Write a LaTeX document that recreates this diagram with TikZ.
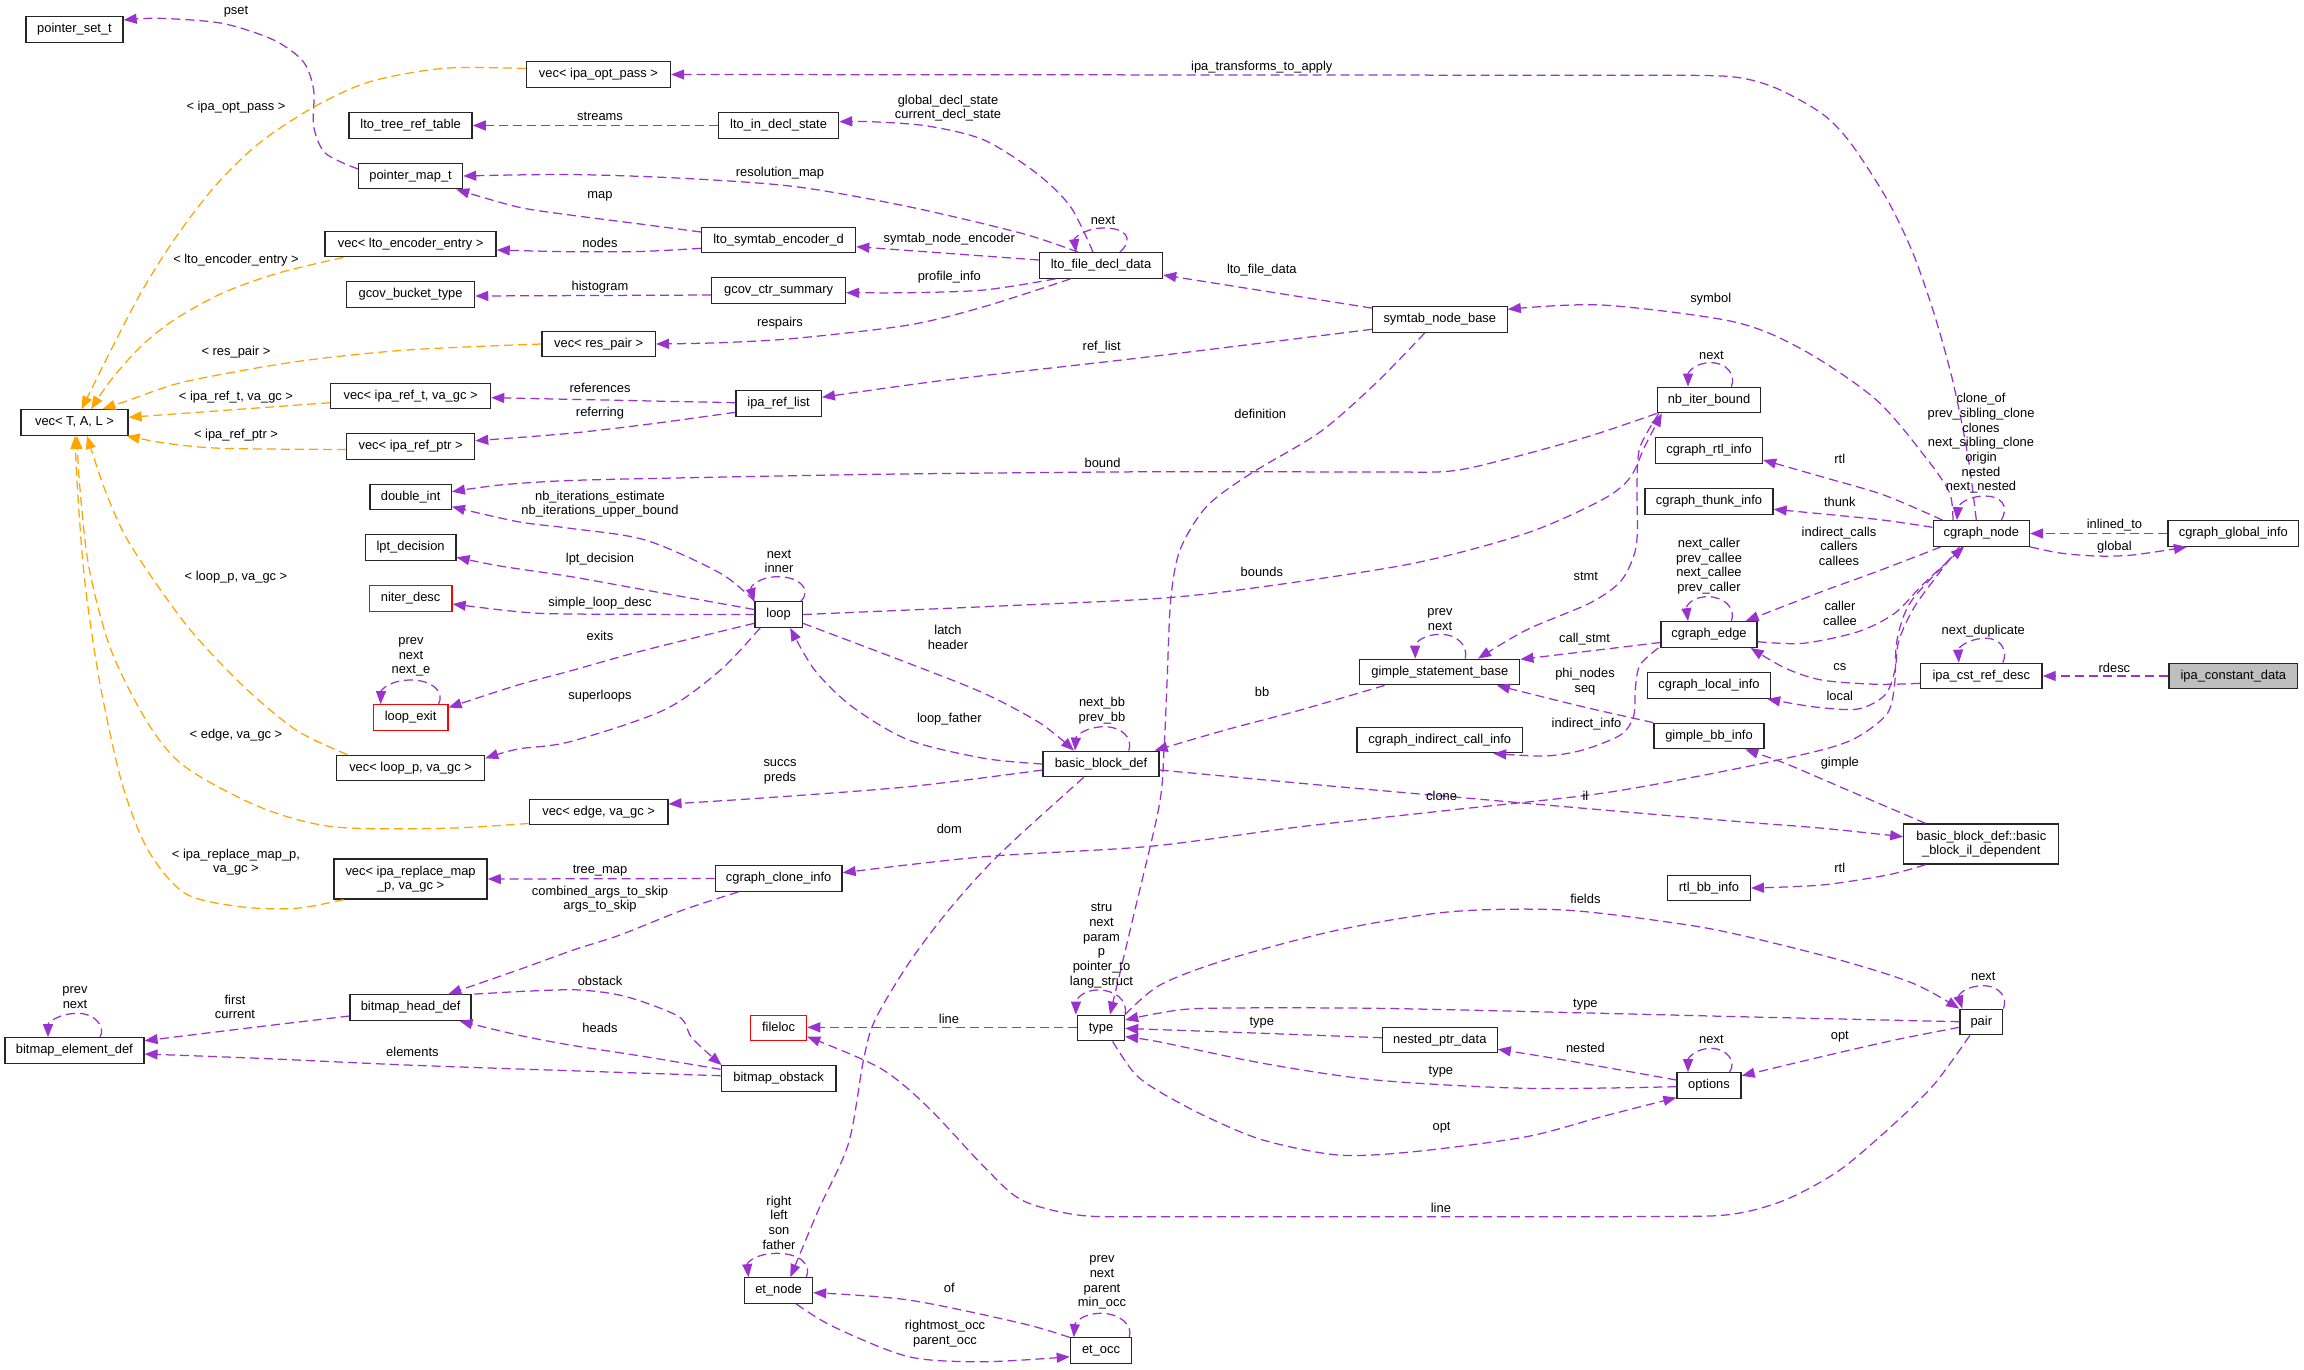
\documentclass[tikz,border=0pt]{standalone}
\usepackage{fontspec}
\usetikzlibrary{arrows.meta,calc}
\newfontfamily\dxfont{Liberation Sans}
\newcommand\dxf{\dxfont\fontsize{12.9}{14.7}\selectfont}
\definecolor{dpurple}{HTML}{9A32CD}
\definecolor{dorange}{HTML}{FFA500}
\tikzset{
 cls/.style={draw=black!85, line width=1.3pt, fill=white, font=\dxf, inner xsep=2pt, inner ysep=0pt, minimum height=25.5pt, text height=9.4pt, text depth=2.8pt},
 clstwo/.style={draw=black!85, line width=1.3pt, fill=white, font=\dxf, inner xsep=2pt, inner ysep=3pt, minimum height=40pt, align=center},
 redcls/.style={cls, draw=red},
 lbl/.style={font=\dxf, inner sep=0pt, align=center},
 pe/.style={draw=dpurple, line width=1.25pt, dash pattern=on 9pt off 5pt, -{Triangle[length=13pt,width=10pt]}},
 oe/.style={pe, draw=dorange},
}
\begin{document}
\begin{tikzpicture}[x=1pt,y=-1pt]
\fill[white] (0,0) rectangle (2304,1369);
\useasboundingbox (0,0) rectangle (2304,1369);

% ---------------- nodes ----------------
\node[cls, minimum width=97pt] (pset) at (74.5,29.5) {pointer\_set\_t};
\node[cls, minimum width=144pt] (vopt) at (598.5,74.5) {vec< ipa\_opt\_pass >};
\node[cls, minimum width=123pt] (ltrt) at (410.6,125.5) {lto\_tree\_ref\_table};
\node[cls, minimum width=104pt] (pmap) at (410.6,176) {pointer\_map\_t};
\node[cls, minimum width=171pt] (venc) at (410.6,244) {vec< lto\_encoder\_entry >};
\node[cls, minimum width=128pt] (gbt) at (410.6,294.5) {gcov\_bucket\_type};
\node[cls, minimum width=113.5pt] (vres) at (598.6,344) {vec< res\_pair >};
\node[cls, minimum width=160pt] (vreft) at (410.6,396) {vec< ipa\_ref\_t, va\_gc >};
\node[cls, minimum width=128pt] (vrefp) at (410.6,446.5) {vec< ipa\_ref\_ptr >};
\node[cls, minimum width=107pt] (vtal) at (74.5,422.5) {vec< T, A, L >};
\node[cls, minimum width=120pt] (lids) at (778.6,125.5) {lto\_in\_decl\_state};
\node[cls, minimum width=154pt] (lsed) at (778.6,240) {lto\_symtab\_encoder\_d};
\node[cls, minimum width=133.6pt] (gcs) at (778.6,290.5) {gcov\_ctr\_summary};
\node[cls, minimum width=85.4pt] (irl) at (778.6,403.5) {ipa\_ref\_list};
\node[cls, minimum width=123pt] (lfdd) at (1101,265.5) {lto\_file\_decl\_data};
\node[cls, minimum width=134.7pt] (snb) at (1439.8,319.5) {symtab\_node\_base};
\node[cls, minimum width=103pt] (nib) at (1709,400) {nb\_iter\_bound};
\node[cls, minimum width=107pt] (cri) at (1709,450.5) {cgraph\_rtl\_info};
\node[cls, minimum width=128pt] (cti) at (1709,501.5) {cgraph\_thunk\_info};
\node[cls, minimum width=96.3pt] (cgn) at (1981.3,533.5) {cgraph\_node};
\node[cls, minimum width=130.7pt] (cgi) at (2233.3,533.5) {cgraph\_global\_info};
\node[cls, minimum width=96pt] (cge) at (1709,634.5) {cgraph\_edge};
\node[cls, minimum width=123pt] (cli) at (1709,685.5) {cgraph\_local\_info};
\node[cls, minimum width=121.5pt] (icrd) at (1981.3,676) {ipa\_cst\_ref\_desc};
\node[cls, minimum width=128.8pt, fill=black!25] (icd) at (2233.3,676) {ipa\_constant\_data};
\node[cls, minimum width=110pt] (gbi) at (1709,736) {gimple\_bb\_info};
\node[clstwo, minimum width=155pt] (bbil) at (1981.3,844) {basic\_block\_def::basic\\\_block\_il\_dependent};
\node[cls, minimum width=82.7pt] (rbi) at (1709,888) {rtl\_bb\_info};
\node[cls, minimum width=160pt] (gsb) at (1439.8,672) {gimple\_statement\_base};
\node[cls, minimum width=165.5pt] (cici) at (1439.8,740) {cgraph\_indirect\_call\_info};
\node[cls, minimum width=47.4pt] (lp) at (778.6,614.5) {loop};
\node[cls, minimum width=116pt] (bbd) at (1101,764) {basic\_block\_def};
\node[cls, minimum width=126.8pt] (cci) at (778.6,878.5) {cgraph\_clone\_info};
\node[cls, minimum width=138.5pt] (vedge) at (598.6,812) {vec< edge, va\_gc >};
\node[cls, minimum width=81.4pt] (dint) at (410.6,497) {double\_int};
\node[cls, minimum width=90.6pt] (lptd) at (410.6,547.5) {lpt\_decision};
\node[redcls, minimum width=82.9pt] (nd) at (410.6,598.5) {niter\_desc};
\node[redcls, minimum width=74.7pt] (lex) at (410.6,717.5) {loop\_exit};
\node[cls, minimum width=148pt] (vloop) at (410.6,768) {vec< loop\_p, va\_gc >};
\node[clstwo, minimum width=153pt] (vrmap) at (410.6,879) {vec< ipa\_replace\_map\\\_p, va\_gc >};
\node[cls, minimum width=139pt] (bed) at (74.4,1050.5) {bitmap\_element\_def};
\node[cls, minimum width=121pt] (bhd) at (410.6,1007.5) {bitmap\_head\_def};
\node[redcls, minimum width=56pt] (floc) at (778.6,1028) {fileloc};
\node[cls, minimum width=114.8pt] (bobs) at (778.6,1078.5) {bitmap\_obstack};
\node[cls, minimum width=47pt] (typ) at (1101,1028) {type};
\node[cls, minimum width=68pt] (etn) at (778.6,1290.5) {et\_node};
\node[cls, minimum width=61.3pt] (eto) at (1101,1350.5) {et\_occ};
\node[cls, minimum width=114.7pt] (npd) at (1439.8,1040) {nested\_ptr\_data};
\node[cls, minimum width=64pt] (opts) at (1709,1085.5) {options};
\node[cls, minimum width=42.8pt] (pr) at (1981.3,1022) {pair};

% ---------------- connectors ----------------
\draw[pe] plot[smooth] coordinates {($(pmap.west)+(0,-7)$) (325.5,153.3) (313.7,126.7) (313.7,90) (303.3,61.7) (273.7,40) (222,23.3) (159,18.3) ($(pset.east)+(0,-9.5)$)};
\draw[oe] plot[smooth] coordinates {($(vopt.west)+(0,-6)$) (443.9,68.3) (370,81.7) (314.4,106.7) (259,143.3) (214.5,186.7) (173.9,240) (140.6,293.3) (111,350) ($(vtal.north)+(7,0)$)};
\draw[pe] (lids.west) -- (ltrt.east);
\draw[pe] plot[smooth] coordinates {($(lfdd.north)+(-8,0)$) (1070.5,206.7) (1036.6,173.3) (984,140) (927.5,126) (871,121.7) ($(lids.east)+(0,-3.8)$)};
\draw[pe] plot[smooth] coordinates {($(lfdd.north)+(-23,0)$) (1021.6,233.3) (908.7,206.7) (795.8,186.7) (682.9,178.3) (570,174.5) (pmap.east)};
\draw[pe] plot[smooth] coordinates {($(lsed.west)+(0,-8)$) (640,224) (570,215) (517.9,207) ($(pmap.south east)+(-7,0)$)};
\draw[pe] plot[smooth] coordinates {($(lsed.west)+(0,8.3)$) (640,251.5) (570,251.7) ($(venc.east)+(0,6)$)};
\draw[pe] ($(lfdd.north)+(19,0)$) .. controls (1135,238) and (1125,228) .. (1104,228) .. controls (1085,228) and (1074,238) .. ($(lfdd.north)+(-25,0)$);
\draw[pe] ($(lfdd.west)+(0,-5.5)$) -- ($(lsed.east)+(0,6.7)$);
\draw[pe] plot[smooth] coordinates {($(lfdd.south)+(-45.6,0)$) (984,290) (908.7,292.7) ($(gcs.east)+(0,2.2)$)};
\draw[pe] plot[smooth] coordinates {($(lfdd.south)+(-30.5,0)$) (984,306.7) (908.7,325) (795.8,338.3) (720.5,342.7) (vres.east)};
\draw[pe] ($(gcs.west)+(0,4.5)$) -- ($(gbt.east)+(0,1.5)$);
\draw[oe] plot[smooth] coordinates {($(venc.south west)+(19,0)$) (277.4,273.3) (222,293.3) (173.9,320) (140.6,346.7) (111,380) ($(vtal.north)+(16.5,0)$)};
\draw[oe] plot[smooth] coordinates {(vres.west) (406.9,350) (295.9,361.7) (185,381.7) (129.5,400) ($(vtal.north)+(28,0)$)};
\draw[oe] ($(vreft.west)+(0,6.7)$) -- ($(vtal.east)+(0,-5.2)$);
\draw[oe] plot[smooth] coordinates {($(vrefp.west)+(0,3)$) (222,448.3) (166.5,443.3) ($(vtal.south east)+(-2,0)$)};
\draw[pe] ($(irl.west)+(0,-0.8)$) -- ($(vreft.east)+(0,1.7)$);
\draw[pe] plot[smooth] coordinates {($(irl.west)+(0,8.8)$) (650,424) (570,433.3) ($(vrefp.east)+(0,-5.8)$)};
\draw[pe] plot[smooth] coordinates {($(snb.west)+(0,9.8)$) (1150,356.7) (946.3,380) ($(irl.east)+(0,-6.2)$)};
\draw[pe] ($(snb.north west)+(0,2)$) -- ($(lfdd.east)+(0,9.5)$);
\draw[pe] plot[smooth] coordinates {($(cgn.north)+(-28.4,0)$) (1949.7,493.3) (1927.7,460) (1876.4,400) (1803.2,350) (1733.3,321.7) (1601.6,305) ($(snb.east)+(0,-10.2)$)};
\draw[pe] plot[smooth] coordinates {($(cgn.north)+(-5,0)$) (1968,456.7) (1953.3,383.3) (1935,316.7) (1913,253.3) (1887.4,200) (1850.8,143.3) (1821.5,113.3) (1774,87.3) (1730,76.5) (1650,75.3)} -- (vopt.east);
\draw[pe] ($(cgn.north)+(20,0)$) .. controls (2010,505) and (2000,496) .. (1985,496) .. controls (1968,496) and (1958,505) .. ($(cgn.north)+(-24.4,0)$);
\draw[pe] plot[smooth] coordinates {($(cgn.north west)+(10,0)$) (1883.8,495) (1821.5,476.7) ($(cri.east)+(0,9.5)$)};
\draw[pe] plot[smooth] coordinates {($(cgn.west)+(0,-6.2)$) (1876.4,519.3) ($(cti.east)+(0,7.8)$)};
\draw[pe] plot[smooth] coordinates {($(cgn.south west)+(8.4,0)$) (1876.4,571.7) (1821.5,591.7) ($(cge.north east)+(-12,0)$)};
\draw[pe] plot[smooth] coordinates {($(cge.east)+(0,7.2)$) (1803.2,643.3) (1858,631.7) (1894.7,613.3) (1924,583.3) ($(cgn.south)+(-17.4,0)$)};
\draw[pe] (cgi.west) -- (cgn.east);
\draw[pe] plot[smooth] coordinates {(cgn.south east) (2060,553) (2096,556) (2132.7,555) ($(cgi.south west)+(19.6,0)$)};
\draw[pe] (icd.west) -- (icrd.east);
\draw[pe] ($(icrd.north)+(21.5,0)$) .. controls (2008,652) and (2002,638.3) .. (1986,638.3) .. controls (1968,638.3) and (1958,648) .. ($(icrd.north)+(-22.5,0)$);
\draw[pe] plot[smooth] coordinates {($(icrd.west)+(0,7.3)$) (1876.4,684.3) (1821.5,680) (1785,668) ($(cge.south east)+(-7,0)$)};
\draw[pe] plot[smooth] coordinates {($(cgn.south)+(-22,0)$) (1916.7,603.3) (1899,640) (1895,670) (1885,695) (1858,709) (1815,707) ($(cli.south east)+(-4,0)$)};
\draw[pe] plot[smooth] coordinates {($(cgn.south)+(-19,0)$) (1912,600) (1897,640) (1894.7,683.3) (1887.4,713.3) (1858,736.7) (1821.5,750) (1730,770) (1601.6,793.3) (1451,810) (1300.5,826.7) (1150,846.3) (984,856.7) ($(cci.east)+(0,-5.8)$)};
\draw[pe] plot[smooth] coordinates {($(bbd.east)+(0,6)$) (1338,786.7) (1526.3,803.3) (1740,821.7) (1820,828) ($(bbil.west)+(0,-7.3)$)};
\draw[pe] plot[smooth] coordinates {($(bbil.north west)+(22.4,0)$) (1839.8,786.7) (1785,763.3) ($(gbi.south east)+(-19.4,0)$)};
\draw[pe] plot[smooth] coordinates {($(bbil.south west)+(22.4,0)$) (1887.4,875) (1821.5,885) (rbi.east)};
\draw[pe] ($(nib.north)+(22.4,0)$) .. controls (1736,375) and (1727,362.7) .. (1711,362.7) .. controls (1695,362.7) and (1688,372) .. ($(nib.north)+(-21,0)$);
\draw[pe] plot[smooth] coordinates {(nib.south west) (1590,436) (1509.4,458.3) (1451,471) (1380,472) (1160,471.7) (900,474) (700,477.5) (570,480.5) (500,485) ($(dint.east)+(0,-5.3)$)};
\draw[pe] plot[smooth] coordinates {(lp.east) (1000,606) (1160,598.3) (1262.9,586.7) (1413.4,563.3) (1526.3,533.3) (1601.6,500) (1629.8,478) (1645,446) ($(nib.south west)+(5,0)$)};
\draw[pe] plot[smooth] coordinates {($(nib.south west)+(2,0)$) (1640,447) (1637,483.3) (1637.3,533.3) (1633.5,556.7) (1620,582) (1590,603) (1526.3,630) ($(gsb.north east)+(-42.4,0)$)};
\draw[pe] ($(cge.west)+(0,8)$) -- ($(gsb.east)+(0,-12.7)$);
\draw[pe] plot[smooth] coordinates {(gbi.north west) (1582.7,706.7) ($(gsb.south east)+(-23.6,0)$)};
\draw[pe] plot[smooth] coordinates {($(cge.south west)+(-2,0)$) (1640,665) (1635.4,688) (1633.5,716.7) (1620.4,735) (1582.7,750) (1545,756) ($(cici.south east)+(-30,0)$)};
\draw[pe] ($(cge.north)+(22.4,0)$) .. controls (1736,608) and (1724,596.7) .. (1708,596.7) .. controls (1693,596.7) and (1686,605) .. ($(cge.north)+(-21,0)$);
\draw[pe] ($(gsb.north)+(25.5,0)$) .. controls (1468,645) and (1457,634.3) .. (1440,634.3) .. controls (1425,634.3) and (1415,642) .. ($(gsb.north)+(-24.5,0)$);
\draw[pe] plot[smooth] coordinates {($(gsb.south west)+(25.4,0)$) (1300.5,710) (1225.3,730) ($(bbd.north east)+(-5,0)$)};
\draw[pe] plot[smooth] coordinates {($(snb.south)+(-15,0)$) (1376,383) (1320,432) (1250,474) (1206.4,506.7) (1180,550) (1170.7,600) (1167,683) (1164,750) (1159,806.7) (1132.5,920) ($(typ.north)+(9,0)$)};
\draw[pe] plot[smooth] coordinates {($(lp.east)+(0,8.8)$) (908.7,663.3) (984,693.3) (1040.4,723.3) ($(bbd.north)+(-27,0)$)};
\draw[pe] plot[smooth] coordinates {(bbd.west) (984,758.3) (908.7,740) (852.2,706.7) (814.6,670) ($(lp.south)+(11.6,0)$)};
\draw[pe] ($(bbd.north)+(27.8,0)$) .. controls (1133,738) and (1122,726.7) .. (1104,726.7) .. controls (1088,726.7) and (1076,735) .. ($(bbd.north)+(-26,0)$);
\draw[pe] plot[smooth] coordinates {($(bbd.west)+(0,6)$) (908.7,786.7) (758.2,798.3) ($(vedge.east)+(0,-8)$)};
\draw[pe] plot[smooth] coordinates {($(bbd.south)+(-17.3,0)$) (1021.6,833.3) (984,870) (946.3,913) (908.7,963.3) (875,1020) (863.5,1060) (848.5,1143.3) (818.4,1210) ($(etn.north)+(11.8,0)$)};
\draw[pe] plot[smooth] coordinates {($(lp.west)+(0,-5)$) (645.3,590) (570,576.5) (500,566) ($(lptd.east)+(0,9.8)$)};
\draw[pe] plot[smooth] coordinates {(lp.west) (570,614) (517.9,611.7) ($(nd.east)+(0,5.5)$)};
\draw[pe] plot[smooth] coordinates {($(lp.west)+(0,8.8)$) (645.3,650) (570,671) (517.9,685) ($(lex.east)+(0,-10)$)};
\draw[pe] plot[smooth] coordinates {($(lp.south)+(-18.5,0)$) (720.5,670) (664,710) (570,741.7) (517.9,749) ($(vloop.east)+(0,-9.7)$)};
\draw[pe] ($(lp.north east)+(-2,0)$) .. controls (812,590) and (800,576.7) .. (778,576.7) .. controls (760,576.7) and (750,586) .. (lp.north west);
\draw[pe] plot[smooth] coordinates {(lp.north west) (720.5,573.3) (645.3,540) (570,528.3) (517.9,521.7) ($(dint.east)+(0,9.7)$)};
\draw[pe] ($(lex.north east)+(-10,0)$) .. controls (445,692) and (432,680) .. (411,680) .. controls (390,680) and (381,690) .. ($(lex.north west)+(8,0)$);
\draw[oe] plot[smooth] coordinates {($(vloop.north west)+(11.5,0)$) (296,730) (240.4,683.3) (185,623.3) (129.5,543.3) (105,490) ($(vtal.south)+(12.5,0)$)};
\draw[oe] plot[smooth] coordinates {($(vedge.south west)+(0,-2)$) (443.9,828.3) (333,826.7) (259,806.7) (185,766.7) (148,723.3) (111,650) (88.8,566.7) (79.5,483.3) ($(vtal.south)+(2.5,0)$)};
\draw[oe] plot[smooth] coordinates {($(vrmap.south west)+(10,0)$) (296,908.3) (240.4,906.7) (185,893.3) (148,850) (122,783.3) (99.9,683.3) (85,583.3) (77.5,490) ($(vtal.south)+(0.5,0)$)};
\draw[pe] (cci.west) -- (vrmap.east);
\draw[pe] plot[smooth] coordinates {($(cci.south west)+(24,0)$) (682.9,910) (620,935) (573.3,950) (517.9,970) ($(bhd.north east)+(-23.4,0)$)};
\draw[pe] plot[smooth] coordinates {($(bhd.north east)+(2.5,0)$) (530,991) (580,990) (626.4,996.7) (679,1016.7) (692,1038) ($(bobs.north west)+(1,0)$)};
\draw[pe] plot[smooth] coordinates {($(bobs.west)+(0,-9.2)$) (645.3,1056.7) (570,1045) (517.9,1035) ($(bhd.south east)+(-12.3,0)$)};
\draw[pe] plot[smooth] coordinates {($(bobs.west)+(0,-2.8)$) (570,1070.7) (406.9,1065) (259,1058.3) ($(bed.east)+(0,3.5)$)};
\draw[pe] plot[smooth] coordinates {($(bhd.west)+(0,8.5)$) (259,1026.7) ($(bed.east)+(0,-9.8)$)};
\draw[pe] ($(bed.north)+(25.5,0)$) .. controls (106,1028) and (96,1013.3) .. (77.7,1013.3) .. controls (60,1013.3) and (48,1022) .. ($(bed.north)+(-26.4,0)$);
\draw[pe] ($(typ.west)+(0,-0.7)$) -- ($(floc.east)+(0,-0.7)$);
\draw[pe] plot[smooth] coordinates {($(pr.south)+(-11.5,0)$) (1935,1083.3) (1894.7,1123.3) (1839.8,1170) (1785,1200) (1730,1214.5) (1650,1216.5) (1400,1216.7) (1150,1216.7) (1078,1215) (1021.6,1200) (984,1166.7) (927.5,1106.7) (880,1068) ($(floc.east)+(0,8.7)$)};
\draw[pe] plot[smooth] coordinates {(typ.north east) (1160,985) (1225.3,960) (1338,930) (1451,911.7) (1564,910) (1676.8,923.3) (1740,935) (1839.8,960) (1913,983.3) (pr.north west)};
\draw[pe] plot[smooth] coordinates {($(pr.west)+(0,-0.3)$) (1740,1016.7) (1601.6,1013.3) (1375.8,1008.3) (1206.4,1008.3) (1160,1013) ($(typ.east)+(0,-8)$)};
\draw[pe] plot[smooth] coordinates {($(pr.west)+(0,5.3)$) (1894.7,1040) (1821.5,1056.7) ($(opts.north east)+(0,3.7)$)};
\draw[pe] (pr.north east) .. controls (2008,998) and (2000,985.7) .. (1983,985.7) .. controls (1966,985.7) and (1958,995) .. ($(pr.north west)+(3,0)$);
\draw[pe] plot[smooth] coordinates {($(npd.west)+(0,-2.3)$) (1262.9,1033.3) (1150,1029.3) ($(typ.east)+(0,0.3)$)};
\draw[pe] plot[smooth] coordinates {($(opts.west)+(0,1.2)$) (1526.3,1088.3) (1375.8,1080) (1262.9,1063.3) (1160,1042) ($(typ.east)+(0,8.7)$)};
\draw[pe] plot[smooth] coordinates {($(opts.west)+(0,-5.5)$) (1564,1060) ($(npd.east)+(0,9.3)$)};
\draw[pe] plot[smooth] coordinates {($(typ.south east)+(-12.6,0)$) (1134.5,1073.3) (1160,1092) (1206.4,1116.7) (1262.9,1140) (1338,1155) (1413.4,1151.7) (1526.3,1136.7) (1601.6,1116.7) ($(opts.south west)+(0,-1.3)$)};
\draw[pe] ($(opts.north)+(20.5,0)$) .. controls (1737,1062) and (1727,1048.3) .. (1711,1048.3) .. controls (1696,1048.3) and (1688,1058) .. ($(opts.north)+(-21,0)$);
\draw[pe] (typ.north east) .. controls (1128,1000) and (1115,990) .. (1098,990) .. controls (1082,990) and (1076,1000) .. ($(typ.north west)+(-1,0)$);
\draw[pe] plot[smooth] coordinates {($(eto.north west)+(0,0.3)$) (1021.6,1323.3) (908.7,1300) ($(etn.east)+(0,2.2)$)};
\draw[pe] plot[smooth] coordinates {($(etn.south)+(17.6,0)$) (833.4,1326.7) (908.7,1356.7) (984,1361.7) ($(eto.west)+(0,6.2)$)};
\draw[pe] ($(etn.north east)+(-7,0)$) .. controls (812,1265) and (800,1253.3) .. (777,1253.3) .. controls (757,1253.3) and (747,1262) .. ($(etn.north west)+(4.5,0)$);
\draw[pe] ($(eto.north east)+(-3,0)$) .. controls (1133,1325) and (1120,1313.3) .. (1100.6,1313.3) .. controls (1084,1313.3) and (1075,1322) .. ($(eto.north west)+(4,0)$);

% ---------------- labels ----------------
\node[lbl] (l1) at (236,11.7) {pset};
\node[lbl] (l2) at (236,107.3) {< ipa\_opt\_pass >};
\node[lbl] (l3) at (600,116.7) {streams};
\node[lbl] (l4) at (948,108) {global\_decl\_state\\current\_decl\_state};
\node[lbl] (l5) at (780,172.7) {resolution\_map};
\node[lbl] (l6) at (600,196.7) {map};
\node[lbl] (l7) at (600,242.7) {nodes};
\node[lbl] (l8) at (1103,220) {next};
\node[lbl] (l9) at (949.3,239.3) {symtab\_node\_encoder};
\node[lbl] (l10) at (949.3,276.7) {profile\_info};
\node[lbl] (l11) at (780,322.7) {respairs};
\node[lbl] (l12) at (600,287.3) {histogram};
\node[lbl] (l13) at (236,260) {< lto\_encoder\_entry >};
\node[lbl] (l14) at (236,351.7) {< res\_pair >};
\node[lbl] (l15) at (236,396.7) {< ipa\_ref\_t, va\_gc >};
\node[lbl] (l16) at (236,435) {< ipa\_ref\_ptr >};
\node[lbl] (l17) at (600,388.3) {references};
\node[lbl] (l18) at (600,412.7) {referring};
\node[lbl] (l19) at (1101.7,347.3) {ref\_list};
\node[lbl] (l20) at (1261.8,270) {lto\_file\_data};
\node[lbl] (l21) at (1710.7,298.7) {symbol};
\node[lbl] (l22) at (1261.8,66.7) {ipa\_transforms\_to\_apply};
\node[lbl] (l23) at (1981,443.3) {clone\_of\\prev\_sibling\_clone\\clones\\next\_sibling\_clone\\origin\\nested\\next\_nested};
\node[lbl] (l24) at (1839.8,459.3) {rtl};
\node[lbl] (l25) at (1839.8,502.3) {thunk};
\node[lbl] (l26) at (1839,546.3) {indirect\_calls\\callers\\callees};
\node[lbl] (l27) at (1840,613.7) {caller\\callee};
\node[lbl] (l28) at (2114.4,525) {inlined\_to};
\node[lbl] (l29) at (2114.4,546.7) {global};
\node[lbl] (l30) at (2114.4,667.7) {rdesc};
\node[lbl] (l31) at (1983.3,630.7) {next\_duplicate};
\node[lbl] (l32) at (1839.8,666.7) {cs};
\node[lbl] (l33) at (1839.8,695.7) {local};
\node[lbl] (l34) at (1441.6,795.7) {clone};
\node[lbl] (l35) at (1585.4,795.7) {il};
\node[lbl] (l36) at (1839.8,762.7) {gimple};
\node[lbl] (l37) at (1839.8,868.3) {rtl};
\node[lbl] (l38) at (1711.4,355) {next};
\node[lbl] (l39) at (1102.5,463.3) {bound};
\node[lbl] (l40) at (1261.8,571.7) {bounds};
\node[lbl] (l41) at (1585.8,576.7) {stmt};
\node[lbl] (l42) at (1584.6,638.7) {call\_stmt};
\node[lbl] (l43) at (1585,681.7) {phi\_nodes\\seq};
\node[lbl] (l44) at (1586.5,724.3) {indirect\_info};
\node[lbl] (l45) at (1709,566.3) {next\_caller\\prev\_callee\\next\_callee\\prev\_caller};
\node[lbl] (l46) at (1440,619.5) {prev\\next};
\node[lbl] (l47) at (1262.1,692.3) {bb};
\node[lbl] (l48) at (1260.3,414.3) {definition};
\node[lbl] (l49) at (948,637.3) {latch\\header};
\node[lbl] (l50) at (949.3,719.3) {loop\_father};
\node[lbl] (l51) at (1102,710.8) {next\_bb\\prev\_bb};
\node[lbl] (l52) at (780,772.2) {succs\\preds};
\node[lbl] (l53) at (949.3,829) {dom};
\node[lbl] (l54) at (600,559.3) {lpt\_decision};
\node[lbl] (l55) at (600,602.7) {simple\_loop\_desc};
\node[lbl] (l56) at (600,635.7) {exits};
\node[lbl] (l57) at (600,695.7) {superloops};
\node[lbl] (l58) at (779,561.3) {next\\inner};
\node[lbl] (l59) at (600,504.3) {nb\_iterations\_estimate\\nb\_iterations\_upper\_bound};
\node[lbl] (l60) at (411,657) {prev\\next\\next\_e};
\node[lbl] (l61) at (236,577.3) {< loop\_p, va\_gc >};
\node[lbl] (l62) at (236,735) {< edge, va\_gc >};
\node[lbl] (l63) at (236,862) {< ipa\_replace\_map\_p,\\va\_gc >};
\node[lbl] (l64) at (600,870.7) {tree\_map};
\node[lbl] (l65) at (600,899.2) {combined\_args\_to\_skip\\args\_to\_skip};
\node[lbl] (l66) at (600,980.7) {obstack};
\node[lbl] (l67) at (600,1027.7) {heads};
\node[lbl] (l68) at (412.4,1051.7) {elements};
\node[lbl] (l69) at (235,1006.8) {first\\current};
\node[lbl] (l70) at (75,997.7) {prev\\next};
\node[lbl] (l71) at (949,1019.3) {line};
\node[lbl] (l72) at (1440.9,1208.3) {line};
\node[lbl] (l73) at (1585.4,899.3) {fields};
\node[lbl] (l74) at (1585.4,1005) {type};
\node[lbl] (l75) at (1839.8,1036.7) {opt};
\node[lbl] (l76) at (1983.3,976.7) {next};
\node[lbl] (l77) at (1261.8,1022.7) {type};
\node[lbl] (l78) at (1440.9,1071.7) {type};
\node[lbl] (l79) at (1585.4,1048.3) {nested};
\node[lbl] (l80) at (1441.6,1127.7) {opt};
\node[lbl] (l81) at (1711.4,1039.3) {next};
\node[lbl] (l82) at (1101.5,945.5) {stru\\next\\param\\p\\pointer\_to\\lang\_struct};
\node[lbl] (l83) at (949.3,1288.3) {of};
\node[lbl] (l84) at (945,1333.7) {rightmost\_occ\\parent\_occ};
\node[lbl] (l85) at (779,1222.7) {right\\left\\son\\father};
\node[lbl] (l86) at (1102,1282.7) {prev\\next\\parent\\min\_occ};
\end{tikzpicture}
\end{document}
